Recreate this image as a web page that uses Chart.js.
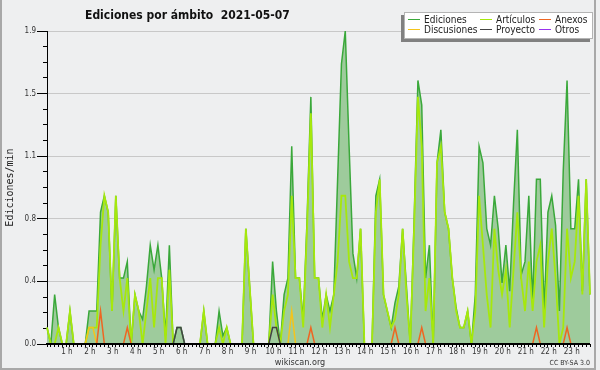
<!DOCTYPE html>
<html>
<head>
<meta charset="utf-8">
<script src="https://cdn.jsdelivr.net/npm/chart.js@4/dist/chart.umd.min.js"></script>
<style>
  html, body { margin: 0; padding: 0; background: #eeeff0; }
  canvas { display: block; }
</style>
</head>
<body>
<canvas id="chart" width="600" height="370"></canvas>
<script>
// Ediciones por ámbito, 2021-05-07 — one value per 10 minutes (edits/min)
const titleText = 'Ediciones por ámbito  2021-05-07';
const yTitle = 'Ediciones/min';
const footerLeft = 'wikiscan.org';
const footerRight = 'CC BY-SA 3.0';

const seriesNames = ['Ediciones', 'Artículos', 'Anexos', 'Discusiones', 'Proyecto', 'Otros'];
const seriesColors = ['#3aa83a', '#a6e80c', '#ee6622', '#f4c41c', '#444444', '#9933ee'];
const yTickLabels = ['0.0', '0.4', '0.8', '1.1', '1.5', '1.9'];
const hourLabels = ['1 h', '2 h', '3 h', '4 h', '5 h', '6 h', '7 h', '8 h', '9 h', '10 h', '11 h', '12 h',
  '13 h', '14 h', '15 h', '16 h', '17 h', '18 h', '19 h', '20 h', '21 h', '22 h', '23 h'];

const ediciones = [
  0.1, 0, 0.3, 0.1, 0, 0, 0.2, 0, 0, 0, 0, 0.2,           // 0-2 h
  0.2, 0.2, 0.8, 0.9, 0.8, 0.2, 0.9, 0.4, 0.4, 0.5, 0, 0.3,
  0.2, 0.15, 0.35, 0.6, 0.45, 0.6, 0.4, 0.05, 0.6, 0, 0.1, 0.1,
  0, 0, 0, 0, 0, 0.2, 0, 0, 0, 0.2, 0.05, 0.1,
  0, 0, 0, 0, 0.7, 0.35, 0, 0, 0, 0, 0, 0.5,
  0.2, 0, 0.3, 0.4, 1.2, 0.4, 0.4, 0.15, 0.75, 1.5, 0.4, 0.4,
  0.15, 0.3, 0.2, 0.3, 1.0, 1.7, 1.9, 1.2, 0.55, 0.4, 0.7, 0,
  0, 0, 0.9, 1.0, 0.3, 0.2, 0.1, 0.25, 0.35, 0.7, 0.35, 0,
  0.75, 1.6, 1.45, 0.4, 0.6, 0, 1.1, 1.3, 0.8, 0.7, 0.4, 0.22,
  0.1, 0.1, 0.2, 0, 0.3, 1.2, 1.1, 0.7, 0.6, 0.9, 0.7, 0.37,
  0.6, 0.32, 0.85, 1.3, 0.42, 0.5, 0.9, 0.25, 1.0, 1.0, 0.2, 0.8,
  0.9, 0.72, 0.2, 1.05, 1.6, 0.7, 0.7, 1.0, 0.32, 1.0, 0.3
];
const articulos = [
  0.1, 0, 0, 0.1, 0, 0, 0.2, 0, 0, 0, 0, 0.1,
  0.1, 0.1, 0.6, 0.9, 0.8, 0.2, 0.9, 0.4, 0.2, 0.4, 0, 0.3,
  0.2, 0, 0.2, 0.4, 0.1, 0.4, 0.4, 0, 0.45, 0, 0, 0,
  0, 0, 0, 0, 0, 0.2, 0, 0, 0, 0.1, 0, 0.1,
  0, 0, 0, 0, 0.7, 0.35, 0, 0, 0, 0, 0, 0.3,
  0.1, 0, 0.2, 0.3, 0.9, 0.4, 0.4, 0.1, 0.7, 1.4, 0.4, 0.4,
  0.1, 0.3, 0.1, 0.3, 0.5, 0.9, 0.9, 0.5, 0.4, 0.4, 0.7, 0,
  0, 0, 0.8, 1.0, 0.3, 0.2, 0.1, 0.15, 0.3, 0.7, 0.3, 0,
  0.7, 1.5, 1.2, 0.2, 0.4, 0, 1.1, 1.2, 0.8, 0.7, 0.4, 0.2,
  0.1, 0.1, 0.2, 0, 0.2, 0.9, 0.6, 0.3, 0.1, 0.7, 0.45, 0.3,
  0.45, 0.1, 0.45, 0.8, 0.4, 0.2, 0.5, 0.2, 0.5, 0.6, 0.1, 0.5,
  0.7, 0.4, 0, 0.1, 0.7, 0.4, 0.5, 0.9, 0.3, 1.0, 0.3
];
const anexos = [
  0, 0, 0, 0, 0, 0, 0, 0, 0, 0, 0, 0,
  0, 0, 0.2, 0, 0, 0, 0, 0, 0, 0.1, 0, 0,
  0, 0, 0, 0, 0, 0, 0, 0, 0, 0, 0, 0,
  0, 0, 0, 0, 0, 0, 0, 0, 0, 0, 0, 0,
  0, 0, 0, 0, 0, 0, 0, 0, 0, 0, 0, 0,
  0, 0, 0, 0, 0, 0, 0, 0, 0, 0.1, 0, 0,
  0, 0, 0, 0, 0, 0, 0, 0, 0, 0, 0, 0,
  0, 0, 0, 0, 0, 0, 0, 0.1, 0, 0, 0, 0,
  0, 0, 0.1, 0, 0, 0, 0, 0, 0, 0, 0, 0,
  0, 0, 0, 0, 0, 0, 0, 0, 0, 0, 0, 0,
  0, 0, 0, 0, 0, 0, 0, 0, 0.1, 0, 0, 0,
  0, 0, 0, 0, 0.1, 0, 0, 0, 0, 0, 0
];
const discusiones = [
  0, 0, 0, 0, 0, 0, 0, 0, 0, 0, 0, 0.1,
  0.1, 0, 0, 0, 0, 0, 0, 0, 0, 0, 0, 0,
  0, 0, 0, 0, 0, 0, 0, 0, 0, 0, 0, 0,
  0, 0, 0, 0, 0, 0, 0, 0, 0, 0, 0, 0,
  0, 0, 0, 0, 0, 0, 0, 0, 0, 0, 0, 0,
  0, 0, 0, 0, 0.2, 0, 0, 0, 0, 0, 0, 0,
  0, 0, 0, 0, 0, 0, 0, 0, 0, 0, 0, 0,
  0, 0, 0, 0, 0, 0, 0, 0, 0, 0, 0, 0,
  0, 0, 0, 0, 0, 0, 0, 0, 0, 0, 0, 0,
  0, 0, 0, 0, 0, 0, 0, 0, 0, 0, 0, 0,
  0, 0, 0, 0, 0, 0, 0, 0, 0, 0, 0, 0,
  0, 0, 0, 0, 0, 0, 0, 0, 0, 0, 0
];
const proyecto = [
  0, 0, 0, 0, 0, 0, 0, 0, 0, 0, 0, 0,
  0, 0, 0, 0, 0, 0, 0, 0, 0, 0, 0, 0,
  0, 0, 0, 0, 0, 0, 0, 0, 0, 0, 0.1, 0.1,
  0, 0, 0, 0, 0, 0, 0, 0, 0, 0, 0, 0,
  0, 0, 0, 0, 0, 0, 0, 0, 0, 0, 0, 0.1,
  0.1, 0, 0, 0, 0, 0, 0, 0, 0, 0, 0, 0,
  0, 0, 0, 0, 0, 0, 0, 0, 0, 0, 0, 0,
  0, 0, 0, 0, 0, 0, 0, 0, 0, 0, 0, 0,
  0, 0, 0, 0, 0, 0, 0, 0, 0, 0, 0, 0,
  0, 0, 0, 0, 0, 0, 0, 0, 0, 0, 0, 0,
  0, 0, 0, 0, 0, 0, 0, 0, 0, 0, 0, 0,
  0, 0, 0, 0, 0, 0, 0, 0, 0, 0, 0
];
const otros = [
  0, 0, 0, 0, 0, 0, 0, 0, 0, 0, 0, 0,
  0, 0, 0, 0, 0, 0, 0, 0, 0, 0, 0, 0,
  0, 0, 0, 0, 0, 0, 0, 0, 0, 0, 0, 0,
  0, 0, 0, 0, 0, 0, 0, 0, 0, 0, 0, 0,
  0, 0, 0, 0, 0, 0, 0, 0, 0, 0, 0, 0,
  0, 0, 0, 0, 0, 0, 0, 0, 0, 0, 0, 0,
  0, 0, 0, 0, 0, 0, 0, 0, 0, 0, 0, 0,
  0, 0, 0, 0, 0, 0, 0, 0, 0, 0, 0, 0,
  0, 0, 0, 0, 0, 0, 0, 0, 0, 0, 0, 0,
  0, 0, 0, 0, 0, 0, 0, 0, 0, 0, 0, 0,
  0, 0, 0, 0, 0, 0, 0, 0, 0, 0, 0, 0,
  0, 0, 0, 0, 0, 0, 0, 0, 0, 0, 0
];

// 10-minute slots, "00:00" ... "23:40"
const slots = ediciones.map((v, i) =>
  String(Math.floor(i / 6)).padStart(2, '0') + ':' + String((i % 6) * 10).padStart(2, '0'));

const yMax = 1.9;
const yMinorCount = 20; // 4 minor steps per labelled step

const condensed = "'DejaVu Sans Condensed', 'DejaVu Sans', sans-serif";

const decorations = {
  id: 'decorations',
  beforeDraw(chart) {
    const ctx = chart.ctx;
    ctx.save();
    ctx.fillStyle = '#eeeff0';
    ctx.fillRect(0, 0, chart.width, chart.height);
    ctx.fillStyle = '#a8a8a8';
    ctx.fillRect(0, 0, 2, chart.height);
    ctx.fillRect(0, chart.height - 2, 596, 2);
    ctx.fillRect(594, 0, 2, chart.height);
    ctx.restore();
  },
  afterDatasetsDraw(chart) {
    // axis line stays on top of zero-valued lines
    const a = chart.chartArea;
    const ctx = chart.ctx;
    ctx.save();
    ctx.fillStyle = '#000';
    ctx.fillRect(a.left - 1, a.bottom - 1, a.right - a.left + 1, 2);
    ctx.restore();
  },
  afterDraw(chart) {
    const ctx = chart.ctx;
    ctx.save();
    // title
    ctx.fillStyle = '#111';
    ctx.font = 'bold 12px ' + condensed;
    ctx.textAlign = 'left';
    ctx.textBaseline = 'alphabetic';
    ctx.fillText(titleText, 85, 18.5);

    // legend box
    ctx.fillStyle = '#808080';
    ctx.fillRect(401, 15, 189, 27);
    ctx.fillStyle = '#ffffff';
    ctx.fillRect(404, 12, 189, 27);
    ctx.strokeStyle = '#b4b4b4';
    ctx.lineWidth = 1;
    ctx.strokeRect(404.5, 12.5, 188, 26);

    const lineX = [408, 480, 539];
    const textX = [424, 496, 555];
    const rowY = [19.5, 29.5];
    const baseY = [22.5, 32.5];
    ctx.font = '10px ' + condensed;
    seriesNames.forEach((name, k) => {
      const col = k % 3, row = Math.floor(k / 3);
      ctx.strokeStyle = seriesColors[k];
      ctx.beginPath();
      ctx.moveTo(lineX[col], rowY[row]);
      ctx.lineTo(lineX[col] + 12, rowY[row]);
      ctx.stroke();
      ctx.fillStyle = '#222';
      ctx.fillText(name, textX[col], baseY[row]);
    });

    // footer
    ctx.fillStyle = '#333';
    ctx.font = '9px ' + condensed;
    ctx.textAlign = 'center';
    ctx.fillText(footerLeft, 300, 365);
    ctx.font = '7px ' + condensed;
    ctx.textAlign = 'right';
    ctx.fillText(footerRight, 590, 365);
    ctx.restore();
  }
};

const lineSet = (k, data, extra) => Object.assign({
  label: seriesNames[k],
  data: data,
  borderColor: seriesColors[k],
  borderWidth: 1.5,
  pointRadius: 0,
  tension: 0,
  fill: false
}, extra);

new Chart(document.getElementById('chart'), {
  type: 'line',
  data: {
    labels: slots,
    datasets: [
      lineSet(0, ediciones, { fill: 'origin', backgroundColor: '#9ecb9c', order: 6 }),
      lineSet(1, articulos, { borderWidth: 1.8, order: 5 }),
      lineSet(2, anexos, { order: 1 }),
      lineSet(3, discusiones, { order: 2 }),
      lineSet(4, proyecto, { order: 3 }),
      lineSet(5, otros, { order: 4 })
    ]
  },
  options: {
    responsive: false,
    animation: false,
    devicePixelRatio: 1,
    layout: { padding: { top: 31, right: 10, left: 0, bottom: 0 } },
    plugins: {
      legend: { display: false },
      title: { display: false },
      tooltip: { enabled: false }
    },
    scales: {
      x: {
        type: 'category',
        offset: false,
        afterFit: s => { s.height = 26; },
        border: { color: '#000', width: 1 },
        grid: { drawOnChartArea: false, tickLength: 3, tickColor: '#000' },
        ticks: {
          autoSkip: false,
          maxRotation: 0,
          minRotation: 0,
          padding: 0,
          labelOffset: -3,
          color: '#333',
          font: { family: condensed, size: 8 },
          callback: (v, i) => (i % 6 === 0 && i > 0) ? hourLabels[i / 6 - 1] : ''
        }
      },
      y: {
        type: 'linear',
        min: 0,
        max: yMax,
        afterFit: s => { s.width = 47; },
        afterBuildTicks: s => {
          s.ticks = [];
          for (let k = 0; k <= yMinorCount; k++) s.ticks.push({ value: yMax * k / yMinorCount });
        },
        border: { color: '#000', width: 1 },
        grid: {
          color: c => (c.index % 4 === 0) ? '#c8c8c8' : 'rgba(0,0,0,0)',
          tickColor: '#000',
          tickLength: 10,
          tickBorderDash: c => (c.index % 4 === 0) ? [] : [0, 6, 4, 0]
        },
        ticks: {
          autoSkip: false,
          padding: 1,
          color: '#333',
          font: { family: condensed, size: 8 },
          callback: (v, i) => (i % 4 === 0) ? yTickLabels[i / 4] : ''
        },
        title: {
          display: true,
          text: yTitle,
          color: '#222',
          font: { family: "'DejaVu Sans Mono', monospace", size: 10 },
          padding: { top: 4, bottom: 0 }
        }
      }
    }
  },
  plugins: [decorations]
});
</script>
</body>
</html>
